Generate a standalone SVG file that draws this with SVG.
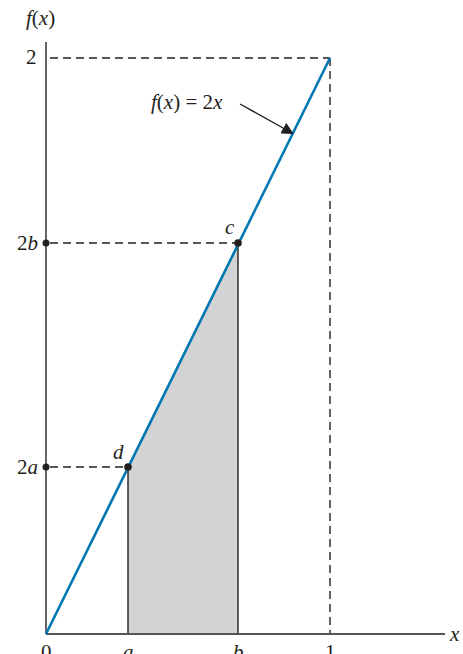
<svg xmlns="http://www.w3.org/2000/svg" width="463" height="654" viewBox="0 0 463 654">
<defs>
<style>
.t{font-family:"Liberation Serif","Times New Roman",serif;font-size:21px;fill:#231f20}
.i{font-style:italic}
.dash{stroke:#231f20;stroke-width:1.4;stroke-dasharray:8,5;fill:none}
.ax{stroke:#555;stroke-width:1.8;fill:none}
.dot{fill:#231f20}
</style>
<marker id="ah" markerWidth="12" markerHeight="12" refX="10" refY="6" orient="auto" markerUnits="userSpaceOnUse" viewBox="0 0 12 12">
<path d="M0,0 L12,6 L0,12 z" fill="#231f20"/>
</marker>
</defs>
<rect width="463" height="654" fill="#fff"/>
<g id="shade">
<polygon points="128,634 128,467 238,244 238,634" fill="#d1d3d4"/>
</g>
<g id="connectors">
<line class="dash" x1="50" y1="58" x2="330" y2="58"/>
<line class="dash" x1="330" y1="58" x2="330" y2="634"/>
<line class="dash" x1="50" y1="243" x2="238" y2="243"/>
<line class="dash" x1="50" y1="467" x2="128" y2="467"/>
<line stroke="#231f20" stroke-width="1.4" x1="128" y1="467" x2="128" y2="634"/>
<line stroke="#231f20" stroke-width="1.4" x1="238" y1="243" x2="238" y2="634"/>
<line class="ax" x1="46" y1="42" x2="46" y2="634"/>
<line class="ax" x1="46" y1="634" x2="445" y2="634"/>
<line stroke="#0077b3" stroke-width="2.6" x1="46" y1="634" x2="330" y2="58"/>
<line stroke="#231f20" stroke-width="1.4" x1="240" y1="104" x2="292" y2="133" marker-end="url(#ah)"/>
</g>
<g id="points">
<circle class="dot" cx="46" cy="243" r="3.5"/>
<circle class="dot" cx="46" cy="467" r="3.5"/>
<circle class="dot" cx="128" cy="467" r="3.8"/>
<circle class="dot" cx="238" cy="243" r="3.8"/>
</g>
<g id="labels">
<text class="t" x="26" y="25"><tspan class="i">f</tspan>(<tspan class="i">x</tspan>)</text>
<text class="t" x="26" y="64">2</text>
<text class="t" x="17" y="250">2<tspan class="i">b</tspan></text>
<text class="t" x="17" y="474">2<tspan class="i">a</tspan></text>
<text class="t i" x="225" y="234">c</text>
<text class="t i" x="113" y="459">d</text>
<text class="t" x="151" y="109"><tspan class="i">f</tspan>(<tspan class="i">x</tspan>) = 2<tspan class="i">x</tspan></text>
<text class="t i" x="450" y="641">x</text>
<text class="t" x="41" y="659">0</text>
<text class="t i" x="123" y="659">a</text>
<text class="t i" x="233" y="659">b</text>
<text class="t" x="325" y="659">1</text>
</g>
</svg>
